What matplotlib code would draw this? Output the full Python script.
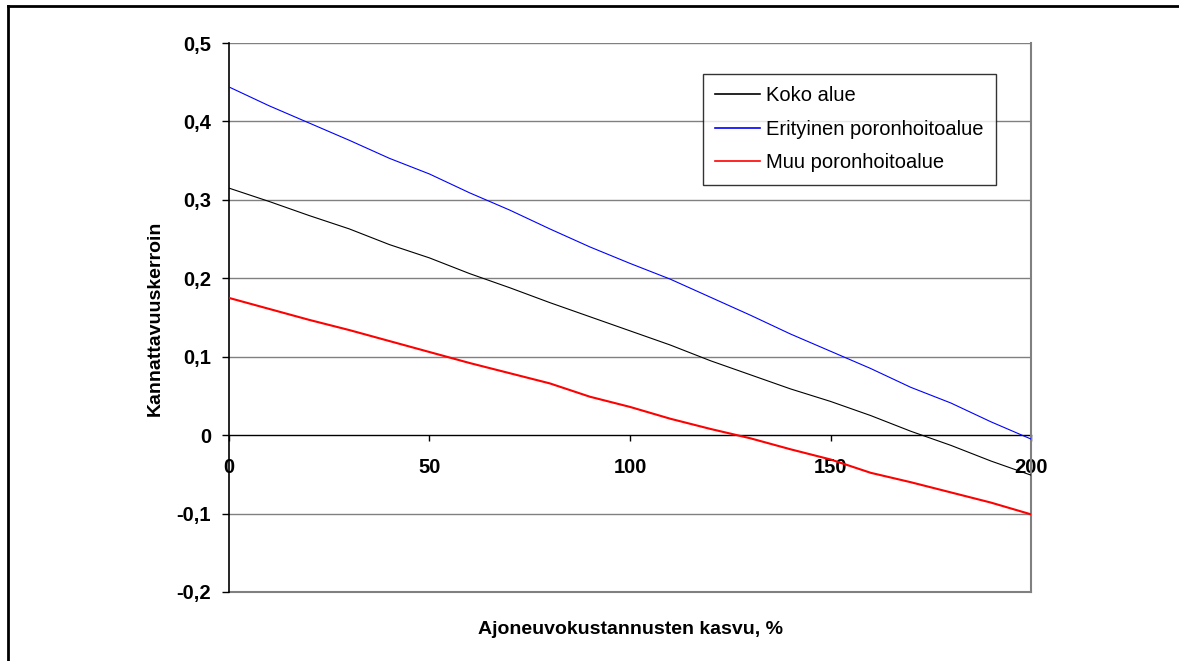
import matplotlib.pyplot as plt
from matplotlib.lines import Line2D

plt.rcParams['font.family'] = ['Liberation Sans', 'DejaVu Sans']

# Ajoneuvokustannusten kasvu, %
kasvu = [0, 10, 20, 30, 40, 50, 60, 70, 80, 90, 100,
         110, 120, 130, 140, 150, 160, 170, 180, 190, 200]

koko_alue = [0.315, 0.298, 0.280, 0.263, 0.243, 0.226, 0.206, 0.188, 0.169, 0.151, 0.133,
             0.115, 0.095, 0.077, 0.059, 0.043, 0.025, 0.005, -0.013, -0.033, -0.051]
erityinen = [0.444, 0.420, 0.398, 0.376, 0.353, 0.333, 0.309, 0.287, 0.263, 0.240, 0.219,
             0.199, 0.176, 0.153, 0.129, 0.107, 0.085, 0.061, 0.041, 0.017, -0.005]
muu = [0.175, 0.161, 0.147, 0.134, 0.120, 0.106, 0.092, 0.079, 0.066, 0.049, 0.036,
       0.021, 0.008, -0.004, -0.018, -0.031, -0.048, -0.060, -0.073, -0.086, -0.101]

labels = ["Koko alue", "Erityinen poronhoitoalue", "Muu poronhoitoalue"]
y_ticks = [-0.2, -0.1, 0, 0.1, 0.2, 0.3, 0.4, 0.5]
y_ticklabels = ["-0,2", "-0,1", "0", "0,1", "0,2", "0,3", "0,4", "0,5"]
x_ticks = [0, 50, 100, 150, 200]

fig = plt.figure(figsize=(11.79, 6.61), dpi=100)
ax = fig.add_axes([0.1942, 0.1044, 0.6803, 0.8305])

for y in [-0.1, 0.1, 0.2, 0.3, 0.4, 0.5]:
    ax.axhline(y, color="#808080", lw=1, zorder=1)

ax.plot(kasvu, koko_alue, color="black", lw=0.8, label=labels[0], zorder=3)
ax.plot(kasvu, erityinen, color="#0000ff", lw=0.8, label=labels[1], zorder=3)
ax.plot(kasvu, muu, color="#ff0000", lw=1.5, label=labels[2], zorder=3)

ax.set_xlim(0, 200)
ax.set_ylim(-0.2, 0.5)

ax.spines['top'].set_visible(False)
ax.spines['right'].set_color("#808080")
ax.spines['right'].set_linewidth(1.5)
ax.spines['left'].set_color("black")
ax.spines['left'].set_linewidth(1.2)
ax.spines['bottom'].set_position(('data', 0))
ax.spines['bottom'].set_color("black")
ax.spines['bottom'].set_linewidth(1)
ax.spines['bottom'].set_zorder(2)
# gray plot-area border at the bottom
ax.axhline(-0.2, color="#808080", lw=1.5, zorder=1, clip_on=False)

ax.set_yticks(y_ticks)
ax.set_yticklabels(y_ticklabels, fontsize=14.5, fontweight="bold")
ax.set_xticks(x_ticks)
ax.set_xticklabels([str(v) for v in x_ticks], fontsize=14.5, fontweight="bold")
ax.tick_params(axis="y", direction="out", length=5, width=1, pad=8)
ax.tick_params(axis="x", direction="out", length=4.5, width=1, pad=12)

fig.text(155 / 1179, 1 - 318 / 661, "Kannattavuuskerroin", fontsize=14,
         fontweight="bold", rotation=90, ha="center", va="center")
fig.text(630 / 1179, 1 - 630 / 661, "Ajoneuvokustannusten kasvu, %", fontsize=14,
         fontweight="bold", ha="center", va="center")

leg = ax.legend(loc="upper left", bbox_to_anchor=(703 / 1179, 1 - 74 / 661),
                bbox_transform=fig.transFigure, fontsize=14.5, frameon=True,
                fancybox=False, edgecolor="black", handlelength=2.2,
                handletextpad=0.3, labelspacing=0.72, borderpad=0.62,
                borderaxespad=0)
leg.get_frame().set_linewidth(1)
for h in leg.get_lines():
    h.set_linewidth(1.2)

# outer chart border
fig.add_artist(Line2D([8 / 1179, 8 / 1179], [0, 1 - 6 / 661],
                      transform=fig.transFigure, color="black", lw=2))
fig.add_artist(Line2D([8 / 1179, 1], [1 - 6 / 661, 1 - 6 / 661],
                      transform=fig.transFigure, color="black", lw=2))

fig.savefig("out.png", dpi=100)
